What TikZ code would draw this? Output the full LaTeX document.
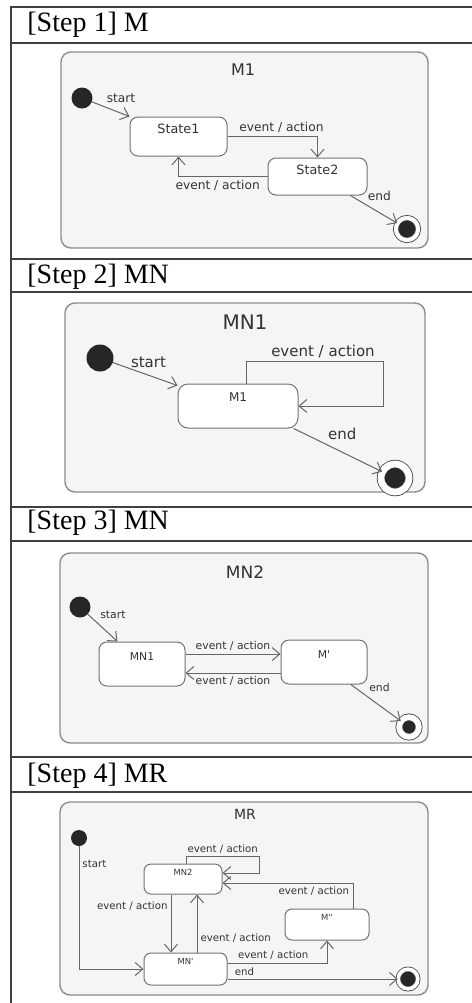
\documentclass[tikz,border=0pt]{standalone}
\usepackage{fontspec}
\setmainfont{Liberation Serif}
\newfontfamily\umlfont{DejaVu Sans}
\usetikzlibrary{arrows.meta}

\tikzset{
  machine/.style={rectangle, rounded corners=5pt, draw=black!45, fill=black!4, line width=0.7pt},
  st/.style={rectangle, rounded corners=4pt, draw=black!55, fill=white, line width=0.5pt},
  init/.style={circle, fill=black!85, inner sep=0pt, minimum size=#1},
  fin/.style 2 args={circle, inner sep=0pt, fill=black!85, draw=black!75, line width=0.4pt,
    double=white, double distance=#2, minimum size=#1},
  tr/.style={draw=black!60, line width=0.5pt, -{Straight Barb[length=3.8pt, width=6.5pt]}},
  lbl/.style={inner sep=1.5pt, text=black!80},
  header/.style={anchor=west, inner sep=0pt, font=\fontsize{14}{16}\selectfont},
  rule/.style={line width=0.8pt, draw=black!75}
}

\begin{document}
\begin{tikzpicture}[x=0.5pt, y=-0.5pt]
\useasboundingbox (0,0) rectangle (472,1003);

\draw[rule] (11,1003) -- (11,7) -- (472,7);
\foreach \y in {43,259,292,507,541,757,792}
  \draw[rule] (11,\y) -- (472,\y);

\node[header] (h1) at (27,25) {[Step 1] M};
\node[header] (h2) at (27,277) {[Step 2] MN};
\node[header] (h3) at (27,523) {[Step 3] MN};
\node[header] (h4) at (27,776) {[Step 4] MR};

% step 1
\begin{scope}[font=\umlfont\fontsize{6.1}{7}\selectfont,
  sttext/.style={anchor=north, inner sep=3.3pt, text=black!80, font=\umlfont\fontsize{6.4}{7}\selectfont}]
\node[machine, minimum width=183.5pt, minimum height=98pt] (mc1) at (244.5,150) {};
\node[lbl, font=\umlfont\fontsize{8}{9}\selectfont] (t1) at (243,70) {M1};
\node[init=10.5pt] (i1) at (82,98) {};
\node[st, minimum width=48.5pt, minimum height=19.5pt, label={[sttext]north:State1}] (s1) at (178.5,136.5) {};
\node[st, minimum width=49.5pt, minimum height=18.5pt, label={[sttext]north:State2}] (s2) at (317.5,176.5) {};
\node[fin={11.1pt}{2.1pt}] (f1) at (407,229) {};
\draw[tr] (i1) -- (s1.north west) node[lbl, pos=0.3, above right] {start};
\draw[tr] (s1.east) -| (s2.north) node[lbl, pos=0.3, above] {event / action};
\draw[tr] (s2.west) -| (s1.south) node[lbl, pos=0.28, below] {event / action};
\draw[tr] (s2.-30) -- (f1) node[lbl, pos=0.3, above right] {end};
\end{scope}

% step 2
\begin{scope}[font=\umlfont\fontsize{7.5}{9}\selectfont,
  sttext/.style={anchor=north, inner sep=4.5pt, text=black!80, font=\umlfont\fontsize{6}{7}\selectfont}]
\node[machine, minimum width=180pt, minimum height=94.5pt] (mc2) at (245,397.5) {};
\node[lbl, font=\umlfont\fontsize{10}{12}\selectfont] (t2) at (245,322) {MN1};
\node[init=13.5pt] (i2) at (100,358) {};
\node[st, rounded corners=5pt, minimum width=60pt, minimum height=22pt, label={[sttext]north:M1}] (m1) at (238,406) {};
\node[fin={14pt}{3.4pt}] (f2) at (395,478) {};
\draw[tr] (i2) -- ([yshift=-1pt]m1.north west) node[lbl, pos=0.55, above=2pt] {start};
\draw[tr] ([xshift=4pt]m1.north) |- ([xshift=42.5pt, yshift=11pt]m1.north east)
  node[lbl, pos=0.78, above] {event / action} |- (m1.east);
\draw[tr] (m1.-22) -- (f2) node[lbl, pos=0.35, above right] {end};
\end{scope}

% step 3
\begin{scope}[font=\umlfont\fontsize{5.4}{6.5}\selectfont,
  sttext/.style={anchor=north, inner sep=5.5pt, text=black!80, font=\umlfont\fontsize{5.4}{6.5}\selectfont}]
\node[machine, minimum width=184pt, minimum height=95pt] (mc3) at (244,648) {};
\node[lbl, font=\umlfont\fontsize{8.5}{10}\selectfont] (t3) at (245,572) {MN2};
\node[init=10.5pt] (i3) at (80,607) {};
\node[st, minimum width=43pt, minimum height=22pt, label={[sttext]north:MN1}] (mn1) at (142,664) {};
\node[st, minimum width=43pt, minimum height=22pt, label={[sttext]north:M'}] (mp) at (324,662) {};
\node[fin={9.8pt}{2.9pt}] (f3) at (409,727) {};
\draw[tr] (i3) -- ([xshift=9.5pt]mn1.north west) node[lbl, pos=0.3, above right] {start};
\draw[tr] ([yshift=5pt]mn1.east) -- ([yshift=5pt]mn1.east -| mp.west) node[lbl, midway, above] {event / action};
\draw[tr] ([yshift=-5.5pt]mp.west) -- ([yshift=-5.5pt]mp.west -| mn1.east) node[lbl, midway, below] {event / action};
\draw[tr] (mp.-40) -- (f3) node[lbl, pos=0.3, above right] {end};
\end{scope}

% step 4
\begin{scope}[font=\umlfont\fontsize{5.1}{6}\selectfont,
  sttext/.style={anchor=north, inner sep=2.5pt, text=black!80, font=\umlfont\fontsize{4.2}{5}\selectfont}]
\node[machine, minimum width=184pt, minimum height=96.5pt] (mc4) at (244,898.5) {};
\node[lbl, font=\umlfont\fontsize{7}{8}\selectfont] (t4) at (245,814) {MR};
\node[init=8pt] (i4) at (79,838) {};
\node[st, rounded corners=3.5pt, minimum width=39pt, minimum height=15pt, label={[sttext]north:MN2}] (mn2) at (183,879) {};
\node[st, rounded corners=3.5pt, minimum width=41.5pt, minimum height=16pt, label={[sttext]north:MN'}] (mnp) at (185.5,969) {};
\node[st, rounded corners=3.5pt, minimum width=42pt, minimum height=15.5pt, label={[sttext]north:M''}] (mpp) at (327,924.5) {};
\node[fin={9.8pt}{1.85pt}] (f4) at (408,979) {};
\draw[tr] (i4) |- (mnp.west) node[lbl, pos=0.07, right] {start};
\draw[tr] ([xshift=1.5pt]mn2.north) |- ([xshift=18.5pt, yshift=3.5pt]mn2.north east)
  node[lbl, pos=0.75, above] {event / action} |- ([yshift=3pt]mn2.east);
\draw[tr] ([xshift=-6pt]mn2.south) -- ([xshift=-7.25pt]mnp.north) node[lbl, pos=0.2, left] {event / action};
\draw[tr] ([xshift=5.75pt]mnp.north) -- ([xshift=7pt]mn2.south) node[lbl, pos=0.24, right] {event / action};
\draw[tr] ([xshift=13pt]mpp.north) |- ([yshift=-2pt]mn2.east) node[lbl, pos=0.65, below] {event / action};
\draw[tr] ([yshift=3pt]mnp.east) -| (mpp.south) node[lbl, pos=0.23, above] {event / action};
\draw[tr] ([yshift=-5pt]mnp.east) -- (f4) node[lbl, pos=0.1, above] {end};
\end{scope}
\end{tikzpicture}
\end{document}
